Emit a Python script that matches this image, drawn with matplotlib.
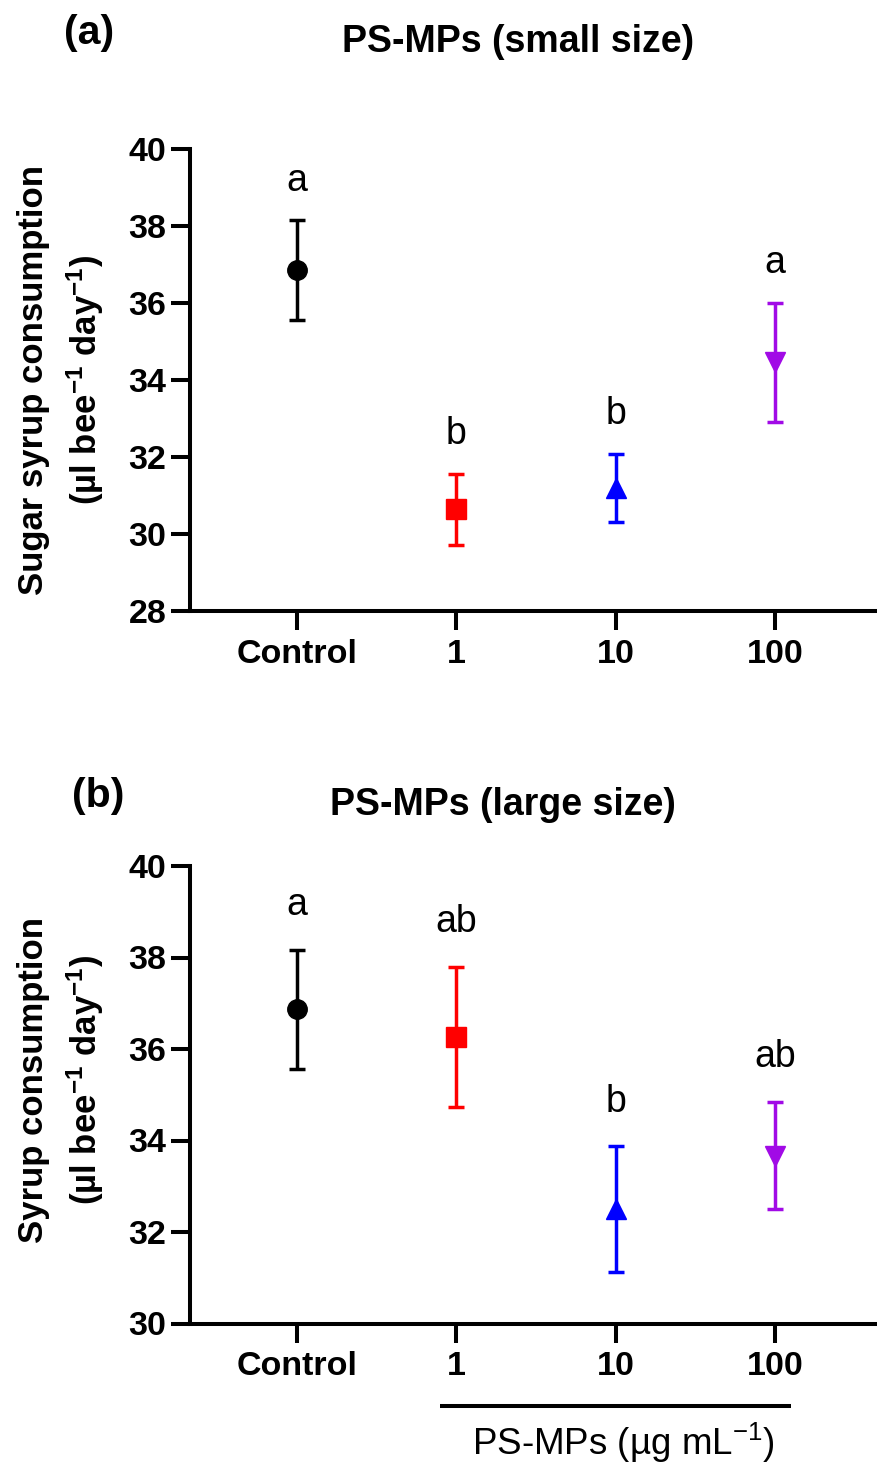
import matplotlib
matplotlib.use("Agg")
import matplotlib.pyplot as plt
from matplotlib.lines import Line2D
from matplotlib.transforms import blended_transform_factory

plt.rcParams['font.family'] = ['Liberation Sans', 'DejaVu Sans']
plt.rcParams['mathtext.fontset'] = 'custom'
plt.rcParams['mathtext.rm'] = 'Liberation Sans'
plt.rcParams['mathtext.bf'] = 'Liberation Sans:bold'
plt.rcParams['mathtext.it'] = 'Liberation Sans:italic'

# ---- data ----
categories = ['Control', '1', '10', '100']
markers = ['o', 's', '^', 'v']
colors = ['#000000', '#FF0000', '#0000FF', '#A10AE6']

small_mean = [36.86, 30.64, 31.20, 34.46]
small_err = [1.30, 0.93, 0.89, 1.55]
small_letters = ['a', 'b', 'b', 'a']

large_mean = [36.87, 36.27, 32.50, 33.67]
large_err = [1.30, 1.53, 1.37, 1.17]
large_letters = ['a', 'ab', 'b', 'ab']

W, H = 878, 1468
fig = plt.figure(figsize=(W / 100, H / 100), dpi=100)

def fx(px):
    return px / W

def fy(py):
    return 1 - py / H

LW = 2.9
TICK_FS = 24.5
LABEL_FS = 25
TITLE_FS = 27
PANEL_FS = 29.5
LETTER_FS = 27
BOTTOM_FS = 26.5

def make_panel(top_px, bottom_px, means, errs, letters, ylim, yticks,
               letter_off, title, title_x, title_base, panel, panel_x, panel_base,
               ylab1, ylab2, ylab_center):
    ax = fig.add_axes([fx(190), fy(bottom_px), 1 - fx(190), (bottom_px - top_px) / H])
    xs = list(range(len(categories)))
    for i in xs:
        ax.errorbar([xs[i]], [means[i]], yerr=[errs[i]], fmt=markers[i], color=colors[i],
                    ms=14, capsize=6, capthick=2.5, elinewidth=2.5, clip_on=False, zorder=3)
        ax.annotate(letters[i], xy=(xs[i], means[i] + errs[i]), xytext=(0, letter_off),
                    textcoords='offset points', ha='center', va='baseline',
                    fontsize=LETTER_FS, color='black')
    ax.set_xlim(-0.672, 3.647)
    ax.set_ylim(*ylim)
    ax.set_yticks(yticks)
    ax.set_xticks(xs)
    ax.set_xticklabels(categories)
    for s in ['top', 'right']:
        ax.spines[s].set_visible(False)
    for s in ['left', 'bottom']:
        ax.spines[s].set_linewidth(LW)
    ax.tick_params(axis='both', width=LW, length=14, labelsize=TICK_FS)
    ax.tick_params(axis='y', pad=3)
    ax.tick_params(axis='x', pad=6)
    for lab in ax.get_xticklabels() + ax.get_yticklabels():
        lab.set_fontweight('bold')
    fig.text(fx(title_x), fy(title_base), title, ha='center', va='baseline',
             fontsize=TITLE_FS, fontweight='bold')
    fig.text(fx(panel_x), fy(panel_base), panel, ha='left', va='baseline',
             fontsize=PANEL_FS, fontweight='bold')
    fig.text(fx(43), fy(ylab_center), ylab1, rotation=90, rotation_mode='anchor',
             ha='center', va='baseline', fontsize=LABEL_FS, fontweight='bold')
    fig.text(fx(97), fy(ylab_center), ylab2, rotation=90, rotation_mode='anchor',
             ha='center', va='baseline', fontsize=LABEL_FS, fontweight='bold')
    return ax

ax1 = make_panel(149, 611, small_mean, small_err, small_letters, (28, 40),
                 [28, 30, 32, 34, 36, 38, 40], 21,
                 'PS-MPs (small size)', 518, 52, '(a)', 64, 44,
                 'Sugar syrup consumption',
                 r'(µl bee$^{\mathbf{-1}}$ day$^{\mathbf{-1}}$)', 380)

ax2 = make_panel(866, 1323.5, large_mean, large_err, large_letters, (30, 40),
                 [30, 32, 34, 36, 38, 40], 25,
                 'PS-MPs (large size)', 503, 815, '(b)', 72, 807,
                 'Syrup consumption',
                 r'(µl bee$^{\mathbf{-1}}$ day$^{\mathbf{-1}}$)', 1080)

tr = blended_transform_factory(ax2.transData, fig.transFigure)
fig.add_artist(Line2D([0.9, 3.1], [fy(1406), fy(1406)], transform=tr,
                      color='black', lw=LW, solid_capstyle='butt'))
fig.text(2.05, fy(1455), r'PS-MPs (µg mL$^{-1}$)', transform=tr, ha='center',
         va='baseline', fontsize=BOTTOM_FS)

fig.savefig('out.png', dpi=100)
